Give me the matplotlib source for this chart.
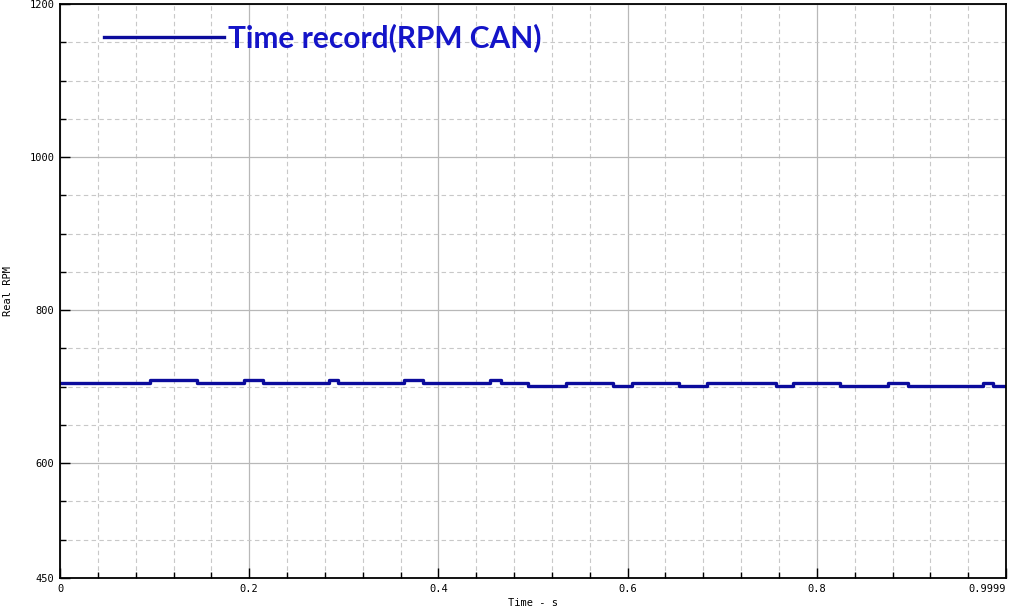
import matplotlib
matplotlib.use('Agg')
import matplotlib.pyplot as plt
from matplotlib.ticker import MultipleLocator, FixedLocator

# step record of the CAN RPM signal (value holds until next time)
time_s = [0, 0.095, 0.145, 0.195, 0.215, 0.284, 0.294, 0.364, 0.384, 0.455,
          0.466, 0.495, 0.535, 0.585, 0.605, 0.654, 0.684, 0.757, 0.775,
          0.825, 0.875, 0.896, 0.976, 0.986, 0.9999]
rpm = [705, 708.5, 705, 708.5, 705, 708.5, 705, 708.5, 705, 708.5,
       705, 701.5, 705, 701.5, 705, 701.5, 705, 701.5, 705,
       701.5, 705, 701.5, 705, 701.5, 701.5]

x_ticks = [0, 0.2, 0.4, 0.6, 0.8, 0.9999]
x_labels = ['0', '0.2', '0.4', '0.6', '0.8', '0.9999']
y_ticks = [450, 600, 800, 1000, 1200]

LINE = '#0b0b9c'
TEXT = '#1414c8'

fig = plt.figure(figsize=(10.12, 6.09), dpi=100)
ax = fig.add_axes([0.0593, 0.0509, 0.9347, 0.9425])

ax.step(time_s, rpm, where='post', color=LINE, linewidth=2.4,
        label='Time record(RPM CAN)')

ax.set_xlim(0, 0.9999)
ax.set_ylim(450, 1200)

ax.xaxis.set_major_locator(FixedLocator(x_ticks))
ax.set_xticklabels(x_labels)
ax.xaxis.set_minor_locator(MultipleLocator(0.04))
ax.yaxis.set_major_locator(FixedLocator(y_ticks))
ax.yaxis.set_minor_locator(MultipleLocator(50))

ax.grid(True, which='major', color='#b8b8b8', linewidth=0.9, linestyle='-')
ax.grid(True, which='minor', color='#c8c8c8', linewidth=0.8,
        linestyle=(0, (4, 3)))
ax.set_axisbelow(True)

ax.tick_params(which='both', direction='in', colors='black',
               labelsize=7.5, width=1)
ax.tick_params(which='major', length=7, pad=4)
ax.tick_params(which='minor', length=4)
for lbl in ax.get_xticklabels() + ax.get_yticklabels():
    lbl.set_family('DejaVu Sans Mono')
ax.get_xticklabels()[-1].set_horizontalalignment('right')

for s in ax.spines.values():
    s.set_linewidth(1.3)
    s.set_color('black')

ax.set_xlabel('Time - s', fontsize=7.5, family='DejaVu Sans Mono')
ax.set_ylabel('Real RPM', fontsize=7.5, family='DejaVu Sans Mono')
ax.xaxis.set_label_coords(0.5, -0.035)
ax.yaxis.set_label_coords(-0.05, 0.5)

leg = ax.legend(loc='upper left', bbox_to_anchor=(0.034, 0.987),
                frameon=False, fontsize=21.5, handlelength=4.0,
                handletextpad=0.15, borderaxespad=0)
for t in leg.get_texts():
    t.set_color(TEXT)
    t.set_fontweight('bold')
    t.set_family('Lato')

fig.savefig('out.png', dpi=100, facecolor='white')
